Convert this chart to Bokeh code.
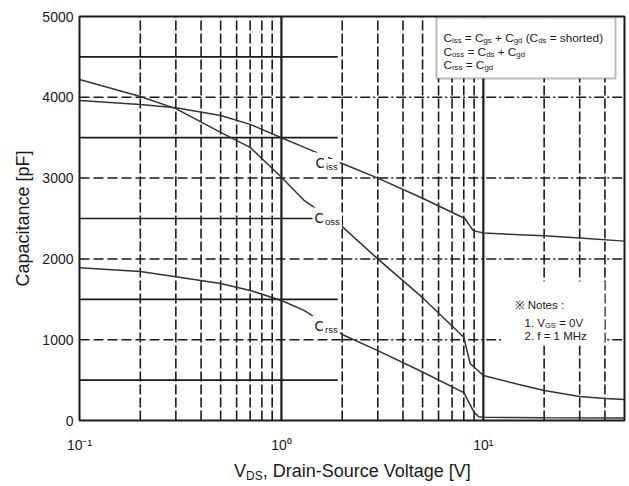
import numpy as np
from bokeh.plotting import figure
from bokeh.models import Label, BoxAnnotation, FixedTicker, Range1d, Div
from bokeh.layouts import column
from bokeh.embed import file_html
from bokeh.resources import INLINE

# ---------------- data ----------------
v_ciss = [0.1, 0.2, 0.3, 0.5, 0.7, 1.0, 1.3, 2.0, 3.0, 5.0, 8.1, 8.9, 10.0, 20.0, 30.0, 50.0]
c_iss = [3960, 3910, 3870, 3775, 3665, 3500, 3380, 3180, 3000, 2750, 2500, 2350, 2320, 2285, 2260, 2220]

v_coss = [0.1, 0.2, 0.3, 0.5, 0.7, 1.0, 1.3, 2.0, 3.0, 5.0, 8.0, 8.6, 10.0, 15.0, 20.0, 30.0, 40.0, 50.0]
c_oss = [4220, 4010, 3860, 3565, 3380, 3010, 2720, 2400, 2000, 1520, 1030, 705, 557, 445, 371, 297, 272, 260]

v_crss = [0.1, 0.2, 0.3, 0.5, 0.7, 1.0, 1.3, 2.0, 3.0, 5.0, 8.0, 9.0, 9.5, 10.0, 20.0, 50.0]
c_rss = [1890, 1845, 1780, 1695, 1610, 1485, 1360, 1065, 865, 600, 345, 100, 45, 40, 35, 30]

y_ticks = [0, 1000, 2000, 3000, 4000, 5000]
x_ticks = [0.1, 1, 10]
x_tick_labels = ["10\u207b\u00b9", "10\u2070", "10\u00b9"]

minor_v = [0.2, 0.3, 0.4, 0.5, 0.6, 0.7, 0.8, 0.9, 2, 3, 4, 5, 6, 7, 8, 9, 20, 30, 40]
major_v = [1, 10]
full_h = [1000, 2000, 3000, 4000]
half_h = [500, 1500, 2500, 3500, 4500]
half_h_end = 1.9
dash_split = 2.0

X0, X1 = 0.1, 50.0
Y0, Y1 = 0, 5000

FONT = "Liberation Sans"
INK = "#1a1a1a"

p = figure(width=629, height=458, x_axis_type="log",
           x_range=Range1d(X0, X1), y_range=Range1d(Y0, Y1),
           output_backend="svg", toolbar_location=None,
           min_border_left=79, min_border_right=5, min_border_top=16, min_border_bottom=38)
p.background_fill_color = "white"
p.border_fill_color = "white"
p.outline_line_color = INK
p.outline_line_width = 2
p.xgrid.visible = False
p.ygrid.visible = False

# axes
p.xaxis.ticker = FixedTicker(ticks=x_ticks)
p.xaxis.major_label_overrides = {t: l for t, l in zip(x_ticks, x_tick_labels)}
p.yaxis.ticker = FixedTicker(ticks=y_ticks)
for ax in (p.xaxis[0], p.yaxis[0]):
    ax.axis_line_color = None
    ax.major_tick_line_color = None
    ax.minor_tick_line_color = None
    ax.major_tick_in = 0
    ax.major_tick_out = 0
    ax.major_label_text_font = FONT
    ax.major_label_text_font_size = "14px"
    ax.major_label_text_color = INK
p.xaxis.major_label_standoff = 16
p.yaxis.major_label_standoff = 6
p.yaxis.axis_label = "Capacitance [pF]"
p.yaxis.axis_label_text_font = FONT
p.yaxis.axis_label_text_font_style = "normal"
p.yaxis.axis_label_text_font_size = "18px"
p.yaxis.axis_label_text_color = INK
p.yaxis.axis_label_standoff = 6

# ---------------- grid (drawn as glyphs) ----------------
n = len(minor_v)
p.segment(x0=minor_v, y0=[Y0] * n, x1=minor_v, y1=[Y1] * n,
          line_color=INK, line_width=1.6, line_dash="10 3")
p.segment(x0=major_v, y0=[Y0] * 2, x1=major_v, y1=[Y1] * 2,
          line_color=INK, line_width=2.2)
m = len(full_h)
p.segment(x0=[X0] * m, y0=full_h, x1=[dash_split] * m, y1=full_h,
          line_color=INK, line_width=1.5, line_dash="10 4")
p.segment(x0=[dash_split] * m, y0=full_h, x1=[X1] * m, y1=full_h,
          line_color=INK, line_width=1.5, line_dash="10 3 2 3")
k = len(half_h)
p.segment(x0=[X0] * k, y0=half_h, x1=[half_h_end] * k, y1=half_h,
          line_color=INK, line_width=1.7)

# ---------------- curves ----------------
CURVE = "#333333"
p.line(v_ciss, c_iss, line_color=CURVE, line_width=1.5)
p.line(v_coss, c_oss, line_color=CURVE, line_width=1.5)
p.line(v_crss, c_rss, line_color=CURVE, line_width=1.5)

# ---------------- annotation helpers (page pixel -> data) ----------------
RL, RR, RT, RB = 79, 624, 16, 420
LX0, LX1 = np.log10(X0), np.log10(X1)


def px2x(px):
    return float(10 ** (LX0 + (px - RL) / (RR - RL) * (LX1 - LX0)))


def px2y(py):
    return float(Y0 + (RB - py) / (RB - RT) * (Y1 - Y0))


W = {' ': 278, '(': 333, ')': 333, '=': 584, '+': 584, ':': 278, '.': 278, '[': 278, ']': 278,
     ',': 278, '-': 333, 'A': 667, 'C': 722, 'D': 722, 'G': 778, 'H': 722, 'M': 833, 'N': 722,
     'S': 667, 'V': 667, 'a': 556, 'c': 500, 'd': 556, 'e': 556, 'f': 278, 'g': 556, 'h': 556,
     'i': 222, 'l': 222, 'n': 556, 'o': 556, 'r': 333, 's': 500, 't': 278, 'u': 556, 'z': 500,
     '\u203b': 1000}


def tw(s, size):
    return sum(W.get(ch, 556) for ch in s) / 1000.0 * size


def rich(pieces, x_px, y_px, size, bg=None, pad=0):
    cx = x_px
    for text, kind in pieces:
        fs = size if kind == "n" else round(size * 0.66, 1)
        yy = y_px + (0 if kind == "n" else size * 0.28)
        lead = len(text) - len(text.lstrip(" "))
        body = text.strip(" ")
        if body:
            lab = Label(x=px2x(cx + tw(" " * lead, fs)), y=px2y(yy), text=body,
                        text_font=FONT, text_font_size=f"{fs}px", text_color=INK,
                        text_align="left", text_baseline="alphabetic",
                        background_fill_color=bg, padding=pad)
            p.add_layout(lab)
        cx += tw(text, fs)


# boxes
p.add_layout(BoxAnnotation(left=px2x(436), right=px2x(615), top=px2y(17), bottom=px2y(78),
                           fill_color="white", fill_alpha=1.0, line_color=INK, line_width=2))
p.add_layout(BoxAnnotation(left=px2x(502), right=px2x(604), top=px2y(281), bottom=px2y(345),
                           fill_color="white", fill_alpha=1.0, line_color=None))

# formula box
rich([("C", "n"), ("iss", "s"), (" = C", "n"), ("gs", "s"), (" + C", "n"), ("gd", "s"),
      (" (C", "n"), ("ds", "s"), (" = shorted)", "n")], 443, 37, 11.8)
rich([("C", "n"), ("oss", "s"), (" = C", "n"), ("ds", "s"), (" + C", "n"), ("gd", "s")], 443, 51, 11.8)
rich([("C", "n"), ("rss", "s"), (" = C", "n"), ("gd", "s")], 443, 64, 11.8)

# notes
rich([("\u203b Notes :", "n")], 514, 304, 11.5)
rich([("1. V", "n"), ("GS", "s"), (" = 0V", "n")], 524, 322, 11.5)
rich([("2. f = 1 MHz", "n")], 524, 335, 11.5)

# curve labels
rich([("C", "n"), ("iss", "s")], 313, 162, 14.5, bg="white", pad=2)
rich([("C", "n"), ("oss", "s")], 312, 217, 14.5, bg="white", pad=2)
rich([("C", "n"), ("rss", "s")], 312, 325, 14.5, bg="white", pad=2)

# x axis title (HTML, for the subscript)
xtitle = Div(
    text=('<div style="position:absolute; left:229px; top:-2px; white-space:nowrap; '
          f'font-family:\'{FONT}\'; font-size:18px; line-height:20px; color:{INK};">'
          'V<sub style="font-size:12px; line-height:12px; vertical-align:-3px;">DS</sub>, '
          'Drain-Source Voltage [V]</div>'),
    width=629, height=28)

layout = column(p, xtitle, spacing=0)
open("out.html", "w").write(file_html(layout, INLINE))
